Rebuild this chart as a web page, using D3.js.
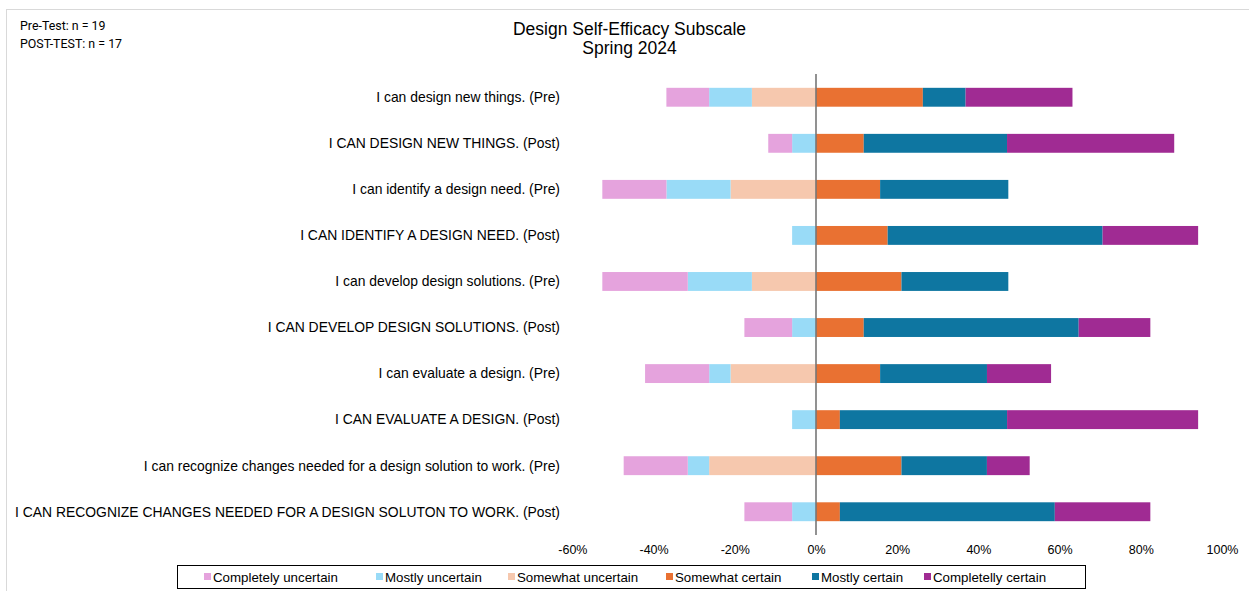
<!DOCTYPE html>
<html><head><meta charset="utf-8">
<script src="https://cdn.jsdelivr.net/npm/d3@7"></script>
<style>body{margin:0;background:#fff;}svg{display:block;}</style>
</head><body>
<svg id="c" width="1249" height="591"></svg>
<script>
const categories = [
  "I can design new things. (Pre)",
  "I CAN DESIGN NEW THINGS. (Post)",
  "I can identify a design need. (Pre)",
  "I CAN IDENTIFY A DESIGN NEED. (Post)",
  "I can develop design solutions. (Pre)",
  "I CAN DEVELOP DESIGN SOLUTIONS. (Post)",
  "I can evaluate a design. (Pre)",
  "I CAN EVALUATE A DESIGN. (Post)",
  "I can recognize changes needed for a design solution to work. (Pre)",
  "I CAN RECOGNIZE CHANGES NEEDED FOR A DESIGN SOLUTON TO WORK. (Post)"
];
const seriesNames = ["Completely uncertain","Mostly uncertain","Somewhat uncertain","Somewhat certain","Mostly certain","Completelly certain"];
const completelyUncertain = [10.53, 5.88, 15.79, 0, 21.05, 11.76, 15.79, 0, 15.79, 11.76];
const mostlyUncertain     = [10.53, 5.88, 15.79, 5.88, 15.79, 5.88, 5.26, 5.88, 5.26, 5.88];
const somewhatUncertain   = [15.79, 0, 21.05, 0, 15.79, 0, 21.05, 0, 26.32, 0];
const somewhatCertain     = [26.32, 11.76, 15.79, 17.65, 21.05, 11.76, 15.79, 5.88, 21.05, 5.88];
const mostlyCertain       = [10.53, 35.29, 31.58, 52.94, 26.32, 52.94, 26.32, 41.18, 21.05, 52.94];
const completelyCertain   = [26.32, 41.18, 0, 23.53, 0, 17.65, 15.79, 47.06, 10.53, 23.53];
const tickValues = [-60,-40,-20,0,20,40,60,80,100];
const colors = ["#E5A3DD","#99DBF7","#F6C8AE","#E97132","#0E76A1","#A02B93"];

const svg = d3.select("#c");
const font = "'Liberation Sans', Arial, sans-serif";

// outer frame lines
svg.append("line").attr("x1",6).attr("x2",1249).attr("y1",9.5).attr("y2",9.5).attr("stroke","#d9d9d9").attr("stroke-width",1);
svg.append("line").attr("x1",6.5).attr("x2",6.5).attr("y1",9).attr("y2",591).attr("stroke","#d9d9d9").attr("stroke-width",1);

svg.append("text").attr("x",20).attr("y",30).attr("font-family","Roboto, sans-serif").attr("font-size",12.4).attr("fill","#000").text("Pre-Test: n = 19");
svg.append("text").attr("x",20).attr("y",48).attr("font-family","Roboto, sans-serif").attr("font-size",12.4).attr("fill","#000").text("POST-TEST: n = 17");

svg.append("text").attr("x",629.5).attr("y",35).attr("text-anchor","middle").attr("font-family",font).attr("font-size",17.5).text("Design Self-Efficacy Subscale");
svg.append("text").attr("x",629.5).attr("y",54).attr("text-anchor","middle").attr("font-family",font).attr("font-size",17.5).text("Spring 2024");

const x = d3.scaleLinear().domain([-60,100]).range([572.4,1222]);
const y = d3.scaleBand().domain(categories).range([74,535]).paddingInner(0.59).paddingOuter(0.3);

const negs = [completelyUncertain, mostlyUncertain, somewhatUncertain];
const poss = [somewhatCertain, mostlyCertain, completelyCertain];

categories.forEach((cat,i)=>{
  let left = 0;
  [2,1,0].forEach(k=>{
    const v = negs[k][i];
    if (v>0){
      svg.append("rect").attr("x",x(left - v)).attr("y",y(cat)).attr("width",x(left)-x(left-v)).attr("height",y.bandwidth()).attr("fill",colors[k]);
    }
    left -= v;
  });
  let right = 0;
  [0,1,2].forEach(k=>{
    const v = poss[k][i];
    if (v>0){
      svg.append("rect").attr("x",x(right)).attr("y",y(cat)).attr("width",x(right+v)-x(right)).attr("height",y.bandwidth()).attr("fill",colors[k+3]);
    }
    right += v;
  });
  svg.append("text").attr("x",560).attr("y",y(cat)+y.bandwidth()/2).attr("dy","0.35em").attr("text-anchor","end")
    .attr("font-family",font).attr("font-size",13.9).attr("fill","#000").text(cat);
});

// zero line
svg.append("line").attr("x1",x(0)).attr("x2",x(0)).attr("y1",74).attr("y2",535).attr("stroke","#767676").attr("stroke-width",1.6);

// axis tick labels
const ax = svg.append("g").attr("transform","translate(0,551)")
  .call(d3.axisBottom(x).tickValues(tickValues).tickFormat(d=>d+"%").tickSize(0));
ax.select(".domain").remove();
ax.selectAll("text").attr("font-family",font).attr("font-size",12.5).attr("fill","#000").attr("dy","0");

// legend
svg.append("rect").attr("x",177.5).attr("y",565.5).attr("width",908).attr("height",23).attr("fill","#fff").attr("stroke","#000").attr("stroke-width",1);
const legX = [204, 376, 508, 666, 812, 924];
seriesNames.forEach((n,k)=>{
  svg.append("rect").attr("x",legX[k]).attr("y",573).attr("width",7).attr("height",7).attr("fill",colors[k]);
  svg.append("text").attr("x",legX[k]+9).attr("y",581.5).attr("font-family",font).attr("font-size",13.3).attr("fill","#000").text(n);
});
</script>
</body></html>
